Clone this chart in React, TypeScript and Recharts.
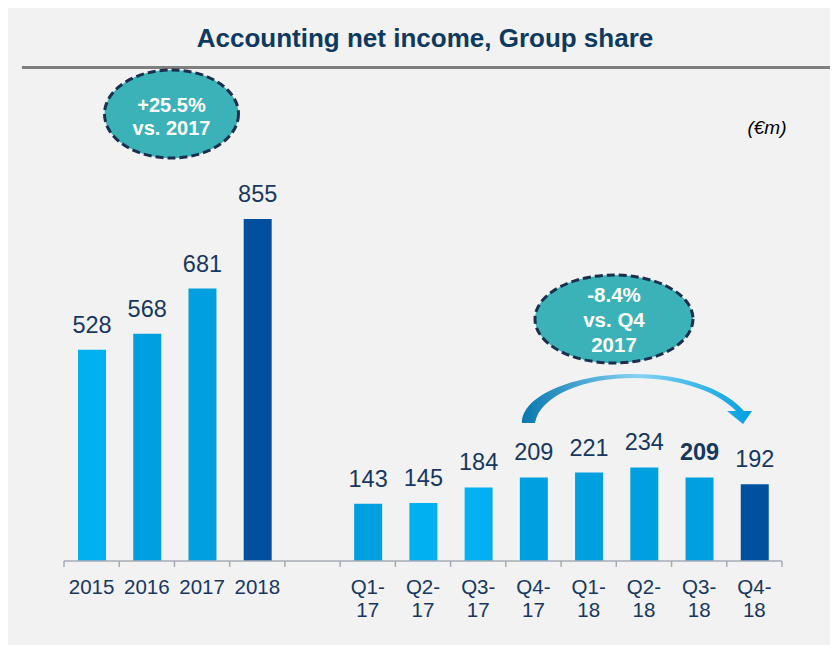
import React from 'react'
import { BarChart, Bar, XAxis, YAxis, Cell, LabelList } from 'recharts'

// FY and quarterly accounting net income, Group share (€m)
const categories = ['2015', '2016', '2017', '2018', '', 'Q1-17', 'Q2-17', 'Q3-17', 'Q4-17', 'Q1-18', 'Q2-18', 'Q3-18', 'Q4-18']
const values = [528, 568, 681, 855, null, 143, 145, 184, 209, 221, 234, 209, 192]
const shades = ['light', 'mid', 'mid', 'dark', 'mid', 'mid', 'light', 'light', 'mid', 'mid', 'mid', 'mid', 'dark']
const boldLabels = ['Q3-18']

const data = categories.map((name, i) => ({ name, value: values[i], shade: shades[i] }))

const W = 830
const H = 637
const AXIS_H = 84
const margin = { top: 153, right: 56, bottom: 0, left: 56 }
const bandWidth = (W - margin.left - margin.right) / categories.length

const FONT = "'Liberation Sans', Arial, sans-serif"
const NAVY = '#17375e'
const fills: Record<string, string> = { light: '#00b0f0', mid: '#00a0e0', dark: '#0050a0' }

function Tick(props: any) {
  const { x, y, payload, index } = props
  const label: string = payload.value || ''
  const parts = label.startsWith('Q') ? [label.slice(0, 3), label.slice(3)] : [label]
  const left = x - bandWidth / 2
  return (
    <g>
      <line x1={left} x2={left} y1={y} y2={y + 6} stroke="#a6abb6" strokeWidth={1.5} />
      {index === categories.length - 1 && (
        <line x1={left + bandWidth} x2={left + bandWidth} y1={y} y2={y + 6} stroke="#a6abb6" strokeWidth={1.5} />
      )}
      {parts.map((p, i) => (
        <text key={i} x={x} y={y + 33 + i * 23} textAnchor="middle" fontSize={20.5} fill={NAVY} fontFamily={FONT}>
          {p}
        </text>
      ))}
    </g>
  )
}

function ValueLabel(props: any) {
  const { x, y, width, value } = props
  const i = categories.indexOf(value)
  if (i < 0 || values[i] == null) return null
  const bold = boldLabels.includes(value)
  return (
    <text x={x + width / 2} y={y - 17} textAnchor="middle" fontSize={23.5} fill={NAVY} fontFamily={FONT} fontWeight={bold ? 'bold' : 'normal'}>
      {values[i]}
    </text>
  )
}

export default function App() {
  return (
    <div style={{ position: 'relative', width: W, height: H, background: '#f2f2f2', fontFamily: FONT }}>
      <BarChart width={W} height={H} data={data} margin={margin}>
        <XAxis
          dataKey="name"
          interval={0}
          tickLine={false}
          tickSize={0}
          tickMargin={0}
          axisLine={{ stroke: '#a6abb6', strokeWidth: 1.5 }}
          tick={<Tick />}
          height={AXIS_H}
        />
        <YAxis hide domain={[0, 1000]} />
        <Bar dataKey="value" barSize={28} isAnimationActive={false}>
          {data.map((d, i) => (
            <Cell key={i} fill={fills[d.shade]} />
          ))}
          <LabelList dataKey="name" content={<ValueLabel />} />
        </Bar>
      </BarChart>
      <svg width={W} height={H} style={{ position: 'absolute', left: 0, top: 0, pointerEvents: 'none' }}>
        <defs>
          <linearGradient id="arrowGrad" x1="0" x2="1" y1="0" y2="0">
            <stop offset="0%" stopColor="#0878ae" />
            <stop offset="50%" stopColor="#86d2f3" />
            <stop offset="100%" stopColor="#00a0e0" />
          </linearGradient>
        </defs>
        <text x={417} y={39} textAnchor="middle" fontSize={26} fontWeight="bold" fill="#0f3a5f" fontFamily={FONT}>
          Accounting net income, Group share
        </text>
        <rect x={14} y={58} width={W - 14} height={3} fill="#7f7f7f" />
        <text x={759} y={126} textAnchor="middle" fontSize={19} fontStyle="italic" fill="#000" fontFamily={FONT}>
          (€m)
        </text>
        <ellipse cx={163.5} cy={106} rx={67} ry={44} fill="#3bb2b8" stroke="#1b2f4e" strokeWidth={3} strokeDasharray="8 4" />
        <text textAnchor="middle" fontSize={20} fontWeight="bold" fill="#fff" fontFamily={FONT}>
          <tspan x={163.5} y={104}>+25.5%</tspan>
          <tspan x={163.5} y={127}>vs. 2017</tspan>
        </text>
        <ellipse cx={606} cy={311} rx={79} ry={44} fill="#3bb2b8" stroke="#1b2f4e" strokeWidth={3} strokeDasharray="8 4" />
        <text textAnchor="middle" fontSize={20.5} fontWeight="bold" fill="#fff" fontFamily={FONT}>
          <tspan x={606} y={294}>-8.4%</tspan>
          <tspan x={606} y={319}>vs. Q4</tspan>
          <tspan x={606} y={344}>2017</tspan>
        </text>
        <path
          d="M514,415 C514,387 567,366 625,366 C682,366 720,384 736,403 L744,403 L735,416 L719,403 L728,403 C712,386 677,370 625,370 C577,370 532,387 527,415 Z"
          fill="url(#arrowGrad)"
        />
      </svg>
    </div>
  )
}
